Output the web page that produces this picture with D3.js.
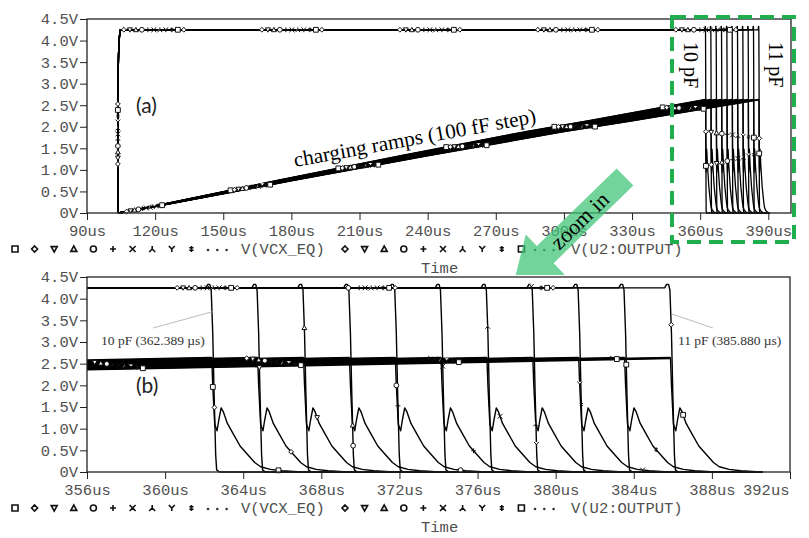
<!DOCTYPE html>
<html>
<head>
<meta charset="utf-8">
<script src="https://cdn.jsdelivr.net/npm/d3@7"></script>
<style>
  body { margin: 0; background: #fff; }
  svg { display: block; }
</style>
</head>
<body>
<div id="chart"></div>
<script>
/*global d3 */

// ---- values ----
var capsPF = [10.0, 10.1, 10.2, 10.3, 10.4, 10.5, 10.6, 10.7, 10.8, 10.9, 11.0];
// time (us) at which U2 output falls for each capacitor value
var dropTimes = [362.389, 364.74, 367.09, 369.44, 371.79, 374.13, 376.48, 378.83, 381.18, 383.53, 385.880];

// output rising edge (same for every run)
var riseT = [103.6, 103.6, 103.9, 104.3, 104.6];
var riseV = [0, 2.9, 3.7, 4.1, 4.25];

// VCX_EQ charging ramp of the slowest run (11 pF)
var rampT = [104, 120, 150, 180, 210, 240, 270, 300, 330, 356, 385.88];
var rampV = [0, 0.15, 0.45, 0.75, 1.04, 1.33, 1.61, 1.89, 2.14, 2.37, 2.63];

// VCX_EQ after the comparator trips (us after the drop)
var pulseDt = [0.05, 0.15, 0.27, 0.36, 0.48, 0.6, 0.8, 1.1, 1.45, 1.8, 2.2, 2.5, 3.0, 3.6, 4.6];
var pulseV  = [2.0, 1.1, 0.95, 1.2, 1.48, 1.38, 1.12, 0.88, 0.6, 0.42, 0.22, 0.12, 0.06, 0.03, 0.0];

// output falling edge (us around the drop)
var dropDt = [-0.3, -0.2, -0.1, -0.03, 0.05, 0.12, 0.2, 0.25, 0.4];
var dropV  = [4.25, 4.33, 4.33, 4.2, 3.2, 1.8, 0.4, 0.05, 0];

var simEnd = 390.6;

var voltTicks  = [0, 0.5, 1.0, 1.5, 2.0, 2.5, 3.0, 3.5, 4.0, 4.5];
var voltLabels = ["0V", "0.5V", "1.0V", "1.5V", "2.0V", "2.5V", "3.0V", "3.5V", "4.0V", "4.5V"];
var timeTicksA = [90, 120, 150, 180, 210, 240, 270, 300, 330, 360, 390];
var timeTicksB = [356, 360, 364, 368, 372, 376, 380, 384, 388, 392];
var traceNames = ["V(VCX_EQ)", "V(U2:OUTPUT)"];
var markerKinds = ["square", "diamond", "tridown", "triup", "circle", "plus", "cross", "lambda", "why", "ddagger"];

// ---- build the runs ----
var runs = capsPF.map(function(c, k){
    var t0 = rampT[0], tEnd = rampT[rampT.length - 1];
    var s = (tEnd - t0) / (dropTimes[k] - t0);
    var ramp = rampT.map(function(t, i){ return [t0 + (t - t0) / s, rampV[i]]; });
    var vcx = ramp
        .concat(pulseDt.map(function(d, i){ return [dropTimes[k] + d, pulseV[i]]; }))
        .concat([[simEnd, 0]]);
    var out = riseT.map(function(t, i){ return [t, riseV[i]]; })
        .concat(dropDt.map(function(d, i){ return [dropTimes[k] + d, dropV[i]]; }))
        .concat([[simEnd, 0]]);
    return {cap: c, ramp: ramp, vcx: vcx, out: out};
});

var svg = d3.select("#chart").append("svg")
    .attr("width", 809)
    .attr("height", 538);

var mono = "'Liberation Mono', 'DejaVu Sans Mono', monospace";
var serif = "'Liberation Serif', 'DejaVu Serif', serif";

function markerPath(kind, s){
    switch (kind) {
    case "square":  return "M" + (-s) + "," + (-s) + "h" + 2*s + "v" + 2*s + "h" + (-2*s) + "Z";
    case "diamond": return "M0," + (-s) + "L" + s + ",0L0," + s + "L" + (-s) + ",0Z";
    case "tridown": return "M" + (-s) + "," + (-s*0.8) + "L" + s + "," + (-s*0.8) + "L0," + s + "Z";
    case "triup":   return "M0," + (-s) + "L" + s + "," + (s*0.8) + "L" + (-s) + "," + (s*0.8) + "Z";
    case "circle":  return "M" + s + ",0A" + s + "," + s + " 0 1,1 " + (-s) + ",0A" + s + "," + s + " 0 1,1 " + s + ",0Z";
    case "plus":    return "M" + (-s) + ",0H" + s + "M0," + (-s) + "V" + s;
    case "cross":   return "M" + (-s) + "," + (-s) + "L" + s + "," + s + "M" + (-s) + "," + s + "L" + s + "," + (-s);
    case "lambda":  return "M0," + (-s) + "V0L" + (-s) + "," + s + "M0,0L" + s + "," + s;
    case "why":     return "M" + (-s) + "," + (-s) + "L0,0L" + s + "," + (-s) + "M0,0V" + s;
    default:        return "M0," + (-s) + "V" + s + "M" + (-s*0.7) + "," + (-s*0.4) + "H" + (s*0.7) + "M" + (-s*0.7) + "," + (s*0.4) + "H" + (s*0.7);
    }
}

function drawMarker(g, kind, x, y, s, sw){
    g.append("path")
        .attr("transform", "translate(" + x + "," + y + ")")
        .attr("d", markerPath(kind, s))
        .attr("fill", "#fff")
        .attr("stroke", "#111")
        .attr("stroke-width", sw);
}

function drawPanel(box, domain, ticks, opt){
    var w = box.x1 - box.x0, h = box.y1 - box.y0;
    var x = d3.scaleLinear().domain(domain).range([0, w]);
    var y = d3.scaleLinear().domain([0, 4.5]).range([h, 0]);

    var g = svg.append("g")
        .attr("transform", "translate(" + box.x0 + "," + box.y0 + ")");

    g.append("rect")
        .attr("x", 0).attr("y", -2).attr("width", w).attr("height", h + 2)
        .attr("fill", "#fff");

    var clipId = "clip" + opt.id;
    g.append("clipPath").attr("id", clipId)
      .append("rect").attr("width", w).attr("height", h + 1);

    // axes
    g.append("g")
        .call(d3.axisLeft(y).tickValues(voltTicks)
            .tickFormat(function(d, i){ return voltLabels[i]; })
            .tickSize(7).tickPadding(2))
        .call(function(a){ a.select(".domain").remove(); })
        .attr("font-size", 15.5).attr("font-family", mono)
        .call(function(a){
            a.selectAll("line").attr("stroke", "#222");
            a.selectAll("text").attr("fill", "#505050");
        });

    var xa = g.append("g")
        .attr("transform", "translate(0," + h + ")")
        .call(d3.axisBottom(x).tickValues(ticks)
            .tickFormat(function(d){ return d + "us"; })
            .tickSize(7).tickPadding(5))
        .call(function(a){ a.select(".domain").remove(); })
        .attr("font-size", 15.5).attr("font-family", mono);
    xa.selectAll("line").attr("stroke", "#222");
    xa.selectAll("text").attr("fill", "#505050");
    if (opt.lastRight) {
        xa.selectAll(".tick").filter(function(d, i){ return i === ticks.length - 1; })
          .select("text").attr("text-anchor", "end").attr("x", -1);
    }

    var line = d3.line()
        .x(function(d){ return x(d[0]); })
        .y(function(d){ return y(d[1]); });

    var plot = g.append("g").attr("clip-path", "url(#" + clipId + ")");
    var traces = [];
    runs.forEach(function(r, k){
        // the ramps overlap into a heavy band
        plot.append("path")
            .attr("d", line(r.ramp))
            .attr("fill", "none")
            .attr("stroke", "#000")
            .attr("stroke-width", opt.rampW);
        var p = plot.append("path")
            .attr("d", line(r.vcx))
            .attr("fill", "none")
            .attr("stroke", "#000")
            .attr("stroke-width", opt.sw)
            .attr("stroke-linejoin", "round");
        traces.push({node: p.node(), kind: markerKinds[k % 10], phase: opt.vcxPhase + opt.vcxStep * k, gap: opt.vcxGap});
    });
    runs.forEach(function(r, k){
        var p = plot.append("path")
            .attr("d", line(r.out))
            .attr("fill", "none")
            .attr("stroke", "#000")
            .attr("stroke-width", opt.sw)
            .attr("stroke-linejoin", "round");
        traces.push({node: p.node(), kind: markerKinds[(11 + k) % 10], phase: opt.outPhase + 6 * k, gap: opt.outGap});
    });

    // trace markers spread along each path, as the simulator draws them
    var mg = g.append("g");
    traces.forEach(function(t){
        var len = t.node.getTotalLength();
        for (var s = t.phase; s < len; s += t.gap) {
            var pt = t.node.getPointAtLength(s);
            if (pt.x < 2 || pt.x > w - 2 || pt.y < 2 || pt.y > h - 1) continue;
            drawMarker(mg, t.kind, pt.x, pt.y, 2.4, 1);
        }
    });

    g.append("rect")
        .attr("width", w).attr("height", h)
        .attr("fill", "none")
        .attr("stroke", "#222")
        .attr("stroke-width", 1.3);

    return {g: g, x: x, y: y};
}

function drawLegend(cy, timeBase){
    var lg = svg.append("g").attr("font-family", mono).attr("font-size", 15.5).attr("fill", "#505050");
    var groups = [{x: 15, first: 0, dots: 208, label: 241, name: traceNames[0]},
                  {x: 345, first: 1, dots: 535, label: 571, name: traceNames[1]}];
    groups.forEach(function(gr){
        for (var i = 0; i < 10; i++) {
            drawMarker(lg, markerKinds[(gr.first + i) % 10], gr.x + i * 19.6, cy, 3, 1.6);
        }
        [0, 1, 2].forEach(function(j){
            lg.append("circle").attr("cx", gr.dots + j * 9.3).attr("cy", cy + 1).attr("r", 1.3).attr("fill", "#333");
        });
        lg.append("text").attr("x", gr.label).attr("y", cy + 5).text(gr.name);
    });
    lg.append("text").attr("x", 421).attr("y", timeBase).text("Time");
}

// ---- top panel (a) ----
var topP = drawPanel({x0: 87, y0: 19, x1: 791, y1: 213}, [90, 400], timeTicksA,
    {id: "a", sw: 1.3, rampW: 1.7, outPhase: 49, outGap: 138, vcxPhase: 4, vcxStep: 4, vcxGap: 110, lastRight: false});
drawLegend(249, 273);

topP.g.append("text")
    .attr("x", 136 - 87).attr("y", 113 - 19)
    .attr("font-family", "Lato, 'Open Sans', sans-serif")
    .attr("font-size", 21).attr("fill", "#222")
    .text("(a)");

svg.append("text")
    .attr("transform", "translate(295,167) rotate(-10.4)")
    .attr("font-family", serif).attr("font-size", 21)
    .attr("textLength", 246).attr("lengthAdjust", "spacingAndGlyphs")
    .text("charging ramps (100 fF step)");

svg.append("text")
    .attr("transform", "translate(684,42) rotate(90)")
    .attr("font-family", serif).attr("font-size", 20)
    .text("10 pF");
svg.append("text")
    .attr("transform", "translate(769,42) rotate(90)")
    .attr("font-family", serif).attr("font-size", 20)
    .text("11 pF");

svg.append("rect")
    .attr("x", 672).attr("y", 17).attr("width", 122).attr("height", 225)
    .attr("fill", "none")
    .attr("stroke", "#1fae4d")
    .attr("stroke-width", 4)
    .attr("stroke-dasharray", "14,8");

// ---- zoom arrow ----
var arrowTail = [625, 177], arrowTip = [513, 286];
var aLen = Math.hypot(arrowTip[0] - arrowTail[0], arrowTip[1] - arrowTail[1]);
var aAng = Math.atan2(arrowTip[1] - arrowTail[1], arrowTip[0] - arrowTail[0]) * 180 / Math.PI;
svg.append("clipPath").attr("id", "arrowClip")
  .append("rect").attr("x", 0).attr("y", 0).attr("width", 809).attr("height", 275);
svg.append("g").attr("clip-path", "url(#arrowClip)")
  .append("path")
    .attr("transform", "translate(" + arrowTip[0] + "," + arrowTip[1] + ") rotate(" + aAng + ")")
    .attr("d", d3.line()([[-aLen, -12], [-45, -12], [-45, -28], [0, 0], [-45, 28], [-45, 12], [-aLen, 12]]) + "Z")
    .attr("fill", "#3cc373")
    .attr("fill-opacity", 0.72);
svg.append("text")
    .attr("transform", "translate(580,221) rotate(" + (aAng - 180) + ")")
    .attr("text-anchor", "middle")
    .attr("dy", "0.32em")
    .attr("font-family", serif).attr("font-size", 22)
    .text("zoom in");

// ---- bottom panel (b) ----
var botP = drawPanel({x0: 87, y0: 277, x1: 790, y1: 472}, [356, 392], timeTicksB,
    {id: "b", sw: 1.4, rampW: 2.6, outPhase: 132, outGap: 158, vcxPhase: 20, vcxStep: 6, vcxGap: 158, lastRight: true});
drawLegend(508, 532);

botP.g.append("text")
    .attr("x", 136 - 87).attr("y", 393 - 277)
    .attr("font-family", "Lato, 'Open Sans', sans-serif")
    .attr("font-size", 21).attr("fill", "#222")
    .text("(b)");

// leader labels for first and last trip times
var notes = [
    {t: dropTimes[0], v: 3.7, text: "10 pF (" + dropTimes[0].toFixed(3) + " \u00b5s)", lx: 153, ly: 328, tx: 101},
    {t: dropTimes[10], v: 3.65, text: "11 pF (" + dropTimes[10].toFixed(3) + " \u00b5s)", lx: 713, ly: 328, tx: 678}
];
notes.forEach(function(n){
    botP.g.append("line")
        .attr("x1", botP.x(n.t) + 1).attr("y1", botP.y(n.v))
        .attr("x2", n.lx - 87).attr("y2", n.ly - 277)
        .attr("stroke", "#aaa").attr("stroke-width", 0.8);
    svg.append("text")
        .attr("x", n.tx).attr("y", 345)
        .attr("font-family", serif).attr("font-size", 13.5).attr("fill", "#333")
        .text(n.text);
});
</script>
</body>
</html>
